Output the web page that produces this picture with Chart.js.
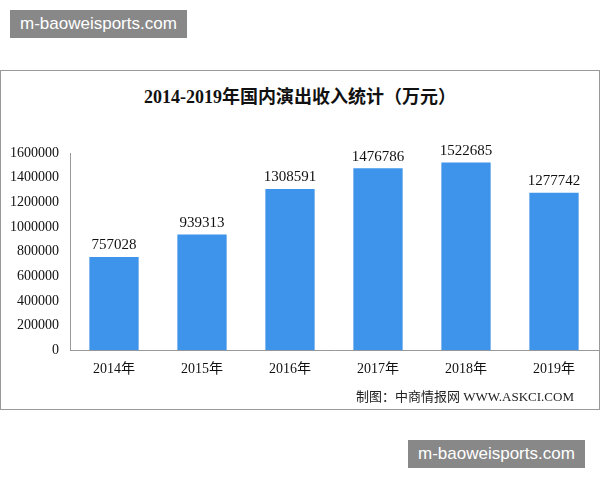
<!DOCTYPE html>
<html><head><meta charset="utf-8">
<script src="https://cdn.jsdelivr.net/npm/chart.js@4"></script>
<style>
body{margin:0;width:600px;height:480px;background:#fff;position:relative;overflow:hidden;font-family:"Liberation Serif","Noto Sans CJK SC",serif}
#box{position:absolute;left:0;top:70px;width:598px;height:338px;border:1px solid #999}
#wrap{position:absolute;left:0;top:0;width:600px;height:480px}
.wm{position:absolute;background:#888;color:#fff;font-family:"Liberation Sans",sans-serif;font-size:17px;padding:0 10px;line-height:28px}
#title{position:absolute;top:82px;left:0;width:600px;text-align:center;font-size:18px;font-weight:bold;color:#111}
#src{position:absolute;top:386px;left:356px;font-size:13px;color:#222}
</style></head><body>
<div id="box"></div>
<div id="title">2014-2019年国内演出收入统计（万元）</div>
<div id="wrap"><canvas id="c" width="600" height="480"></canvas></div>
<div id="src">制图：中商情报网 WWW.ASKCI.COM</div>
<div class="wm" style="left:10px;top:10px">m-baoweisports.com</div>
<div class="wm" style="left:408px;top:440px">m-baoweisports.com</div>
<script>
const categories=["2014年","2015年","2016年","2017年","2018年","2019年"];
const revenue=[757028,939313,1308591,1476786,1522685,1277742];
const labelPlugin={id:'lbl',afterDatasetsDraw(ch){const ctx=ch.ctx;const m=ch.getDatasetMeta(0);ctx.save();ctx.font='15px "Liberation Serif"';ctx.fillStyle='#111';ctx.textAlign='center';ctx.textBaseline='bottom';m.data.forEach((b,i)=>ctx.fillText(revenue[i],b.x,b.y-4));ctx.restore();}};
new Chart(document.getElementById('c'),{type:'bar',data:{labels:categories,datasets:[{data:revenue,backgroundColor:'#3d94ea',categoryPercentage:0.56,barPercentage:1}]},
options:{responsive:false,animation:false,layout:{padding:{top:153,bottom:99,left:7,right:2}},
plugins:{legend:{display:false},tooltip:{enabled:false}},
scales:{x:{grid:{display:false},border:{color:'#999'},ticks:{color:'#111',font:{size:14,family:'"Liberation Serif","Noto Sans CJK SC"'}}},
y:{min:0,max:1600000,ticks:{stepSize:200000,color:'#111',callback:v=>String(v),font:{size:14,family:'"Liberation Serif"'}},grid:{display:false},border:{color:'#999'}}}},plugins:[labelPlugin]});
</script></body></html>
